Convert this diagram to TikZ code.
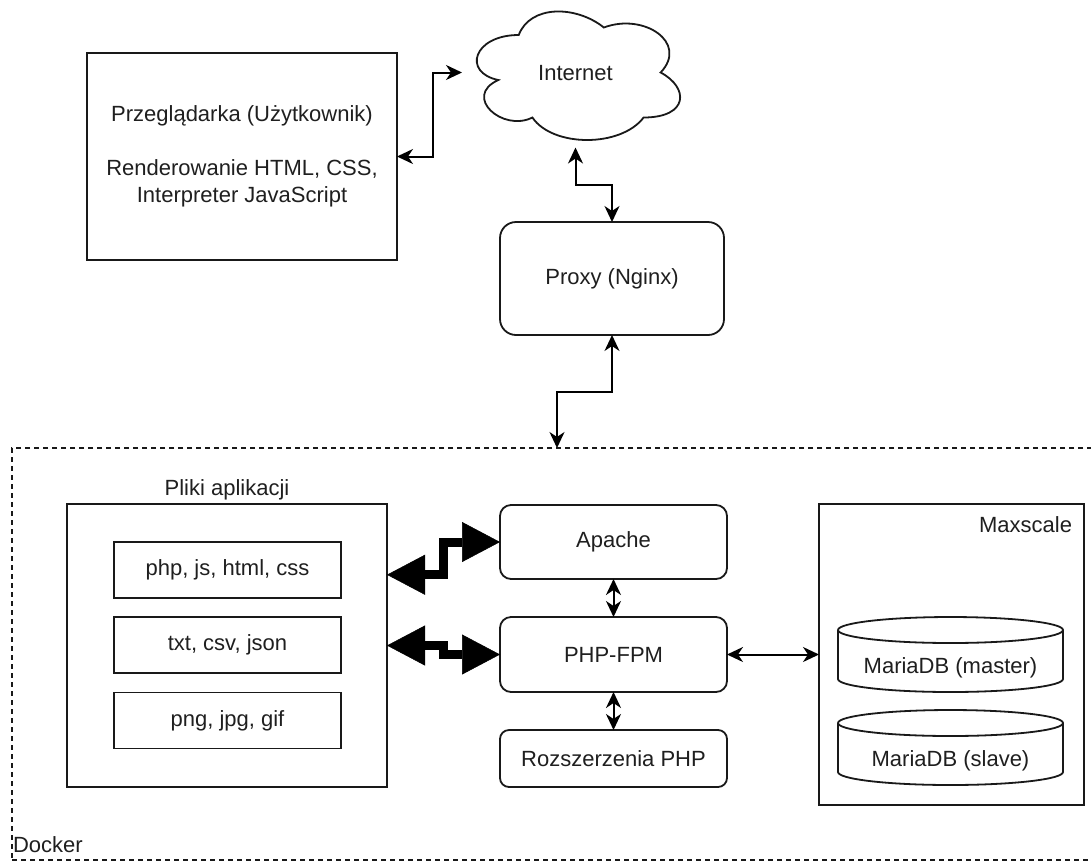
\documentclass[tikz,border=0pt]{standalone}
\usepackage{fontspec}
\setmainfont{Liberation Sans}
\usetikzlibrary{arrows.meta,calc}
\begin{document}
\begin{tikzpicture}[x=1pt,y=-1pt,
  every node/.style={font=\fontsize{22}{27}\selectfont, text=black!88, inner sep=0pt, outer sep=0pt},
  box/.style={draw=black!90, line width=1.8pt},
  rbox/.style={box, rounded corners=#1},
  rbox/.default=11pt,
  conn/.style={line width=2pt, draw=black,
    {Stealth[length=16pt,width=15pt,inset=5pt]}-{Stealth[length=16pt,width=15pt,inset=5pt]}},
  fat/.style={line width=9pt, draw=black,
    {Triangle[length=38pt,width=40pt,line width=0.5pt]}-{Triangle[length=38pt,width=40pt,line width=0.5pt]}},
]
\useasboundingbox (0,0) rectangle (1091,863);
\fill[white] (0,0) rectangle (1091,863);

% Browser
\node[box, minimum width=310pt, minimum height=207pt, align=center] (br) at (242,156.5)
  {Przeglądarka (Użytkownik)\\[27pt] Renderowanie HTML, CSS,\\ Interpreter JavaScript};

% Internet cloud
\node[minimum width=227pt, minimum height=150pt] (inet) at (575.5,72.5) {};
\begin{scope}[shift={(inet.north west)}, x=227pt, y=-150pt]
  \draw[box] (0.25,0.25) .. controls (0.05,0.25) and (0,0.5) .. (0.16,0.55)
    .. controls (0,0.66) and (0.18,0.9) .. (0.31,0.8)
    .. controls (0.4,1) and (0.7,1) .. (0.8,0.8)
    .. controls (1,0.8) and (1,0.6) .. (0.875,0.5)
    .. controls (1,0.3) and (0.8,0.1) .. (0.625,0.2)
    .. controls (0.5,0.05) and (0.3,0.05) .. (0.25,0.25) -- cycle;
\end{scope}
\node (inettxt) at (575.5,73) {Internet};

% Proxy
\node[rbox=16pt, minimum width=224pt, minimum height=113pt] (proxy) at (612,278.5) {Proxy (Nginx)};

% Docker
\node[draw=black!90, line width=1.6pt, dash pattern=on 5pt off 4pt, minimum width=1090pt, minimum height=412pt] (docker) at (557,654) {};
\node[anchor=base west] (dockerlbl) at (13,852) {Docker};

% Pliki aplikacji
\node[box, minimum width=320pt, minimum height=283pt] (pliki) at (227,645.5) {};
\node[anchor=base] (plikilbl) at (227,495) {Pliki aplikacji};
\node[box, minimum width=227pt, minimum height=56pt] (f1) at (227.5,570) {php, js, html, css};
\node[box, minimum width=227pt, minimum height=56pt] (f2) at (227.5,645) {txt, csv, json};
\node[box, minimum width=227pt, minimum height=56pt] (f3) at (227.5,720.5) {png, jpg, gif};

% Apache / PHP-FPM / Extensions
\node[rbox, minimum width=227pt, minimum height=74pt] (apache) at (613.5,542) {Apache};
\node[rbox, minimum width=227pt, minimum height=75pt] (php) at (613.5,654.5) {PHP-FPM};
\node[rbox=9pt, minimum width=227pt, minimum height=57pt] (ext) at (613.5,758.5) {Rozszerzenia PHP};

% Maxscale
\node[box, minimum width=265pt, minimum height=301pt] (maxs) at (951.5,654.5) {};
\node[anchor=base east] (maxslbl) at (1072,532) {Maxscale};

% Databases
\foreach \n/\y/\t in {db1/654.5/MariaDB (master), db2/747.5/MariaDB (slave)}{
  \node[minimum width=225pt, minimum height=75pt] (\n) at (950.5,\y) {};
  \draw[box] ($(\n.north west)+(0,13)$) -- ($(\n.south west)+(0,-13)$)
    arc[start angle=180, end angle=360, x radius=112.5pt, y radius=13pt]
    -- ($(\n.north east)+(0,13)$);
  \draw[box] ($(\n.north)+(0,13)$) ellipse [x radius=112.5pt, y radius=13pt];
  \node (\n t) at ($(\n.center)+(0,13)$) {\t};
}

% Connectors
\draw[conn] (br.east) -- ++(36,0) |- (inet.west);
\draw[conn] (inet.south) -- ++(0,37.5) -| (proxy.north);
\draw[conn] (proxy.south) -- ++(0,57) -| (docker.north);
\draw[conn] (apache.south) -- (php.north);
\draw[conn] (php.south) -- (ext.north);
\draw[conn] (php.east) -- (maxs.west);

\coordinate (p1) at ($(pliki.north east)!0.25!(pliki.south east)$);
\draw[fat] (p1) -- ++(56.5,0) |- (apache.west);
\draw[fat] (pliki.east) -- ++(56.5,0) |- (php.west);
\end{tikzpicture}
\end{document}
